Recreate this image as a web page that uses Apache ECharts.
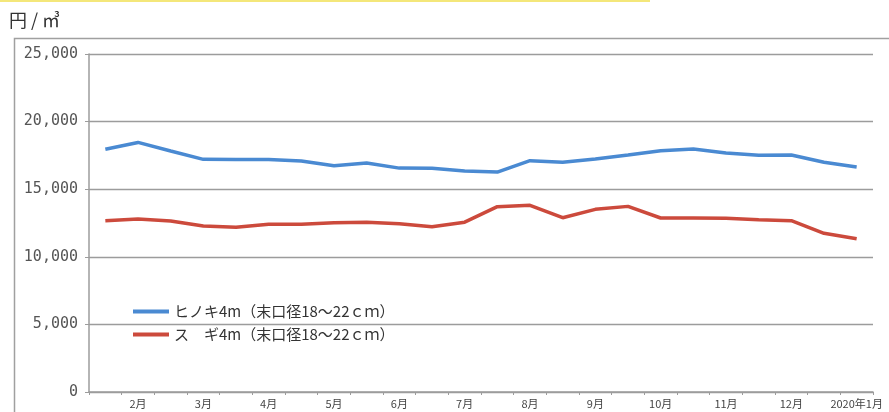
<!DOCTYPE html>
<html>
<head>
<meta charset="utf-8">
<script src="https://cdn.jsdelivr.net/npm/echarts@6/dist/echarts.min.js"></script>
<style>
html,body{margin:0;padding:0;background:#fff;}
#chart{width:889px;height:412px;}
</style>
</head>
<body>
<div id="chart"></div>
<script>
// Semi-monthly observation points (label shown on the month-start points)
const categories = ['1月後半','2月','2月後半','3月','3月後半','4月','4月後半','5月','5月後半','6月','6月後半','7月','7月後半','8月','8月後半','9月','9月後半','10月','10月後半','11月','11月後半','12月','12月後半','2020年1月'];
const hinokiName = 'ヒノキ4m（末口径18～22ｃｍ）';
const sugiName = 'ス　ギ4m（末口径18～22ｃｍ）';
const hinoki = [17950,18460,17830,17210,17200,17200,17090,16740,16940,16560,16550,16350,16270,17110,16990,17230,17530,17850,17970,17680,17510,17530,16990,16640];
const sugi = [12670,12800,12650,12280,12180,12400,12400,12520,12550,12450,12230,12560,13710,13810,12890,13510,13730,12870,12870,12850,12740,12670,11740,11340];
const yTicks = {min:0, max:25000, interval:5000};

const chart = echarts.init(document.getElementById('chart'), null, {renderer:'canvas'});
const gridColor = '#9c9c9c';
chart.setOption({
  backgroundColor:'#ffffff',
  animation:false,
  graphic:[
    {type:'rect', left:0, top:0, shape:{width:650, height:2}, style:{fill:'#f4e77a'}},
    {type:'rect', left:12, top:36, shape:{x:0,y:0,width:900, height:420}, style:{fill:'none', stroke:'#a0a0a0', lineWidth:1.5}},
    {type:'text', left:9, top:11, style:{text:'円 / ㎥', font:'18px "Noto Sans CJK JP"', fill:'#333'}}
  ],
  grid:{left:89, right:16, top:54, bottom:20, containLabel:false},
  legend:{
    orient:'vertical', left:128, top:299, itemGap:8,
    icon:'rect', itemWidth:36, itemHeight:4,
    textStyle:{fontFamily:'"Noto Sans CJK JP"', fontSize:15, color:'#333'},
    data:[hinokiName, sugiName]
  },
  xAxis:{
    type:'category', data:categories, boundaryGap:true,
    axisLine:{lineStyle:{color:gridColor, width:1.5}},
    axisTick:{show:true, interval:0, length:3, lineStyle:{color:gridColor}},
    axisLabel:{
      interval:(i)=> i % 2 === 1,
      fontFamily:'"Noto Sans CJK JP"', fontSize:11, color:'#444', margin:6
    },
    splitLine:{show:false}
  },
  yAxis:{
    type:'value', min:yTicks.min, max:yTicks.max, interval:yTicks.interval,
    axisLine:{show:true, lineStyle:{color:gridColor, width:1.5}},
    axisTick:{show:true, length:4, lineStyle:{color:gridColor}},
    axisLabel:{
      formatter:(v)=> v.toLocaleString('en-US'),
      fontFamily:'"DejaVu Sans Mono"', fontSize:15, color:'#555', margin:11
    },
    splitLine:{show:true, lineStyle:{color:gridColor, width:1.3}}
  },
  series:[
    {name:hinokiName, type:'line', data:hinoki, showSymbol:false, symbol:'none',
     lineStyle:{color:'#4a8ad2', width:3.5}, itemStyle:{color:'#4a8ad2'}},
    {name:sugiName, type:'line', data:sugi, showSymbol:false, symbol:'none',
     lineStyle:{color:'#cc4a3c', width:3.5}, itemStyle:{color:'#cc4a3c'}}
  ]
});
</script>
</body>
</html>
